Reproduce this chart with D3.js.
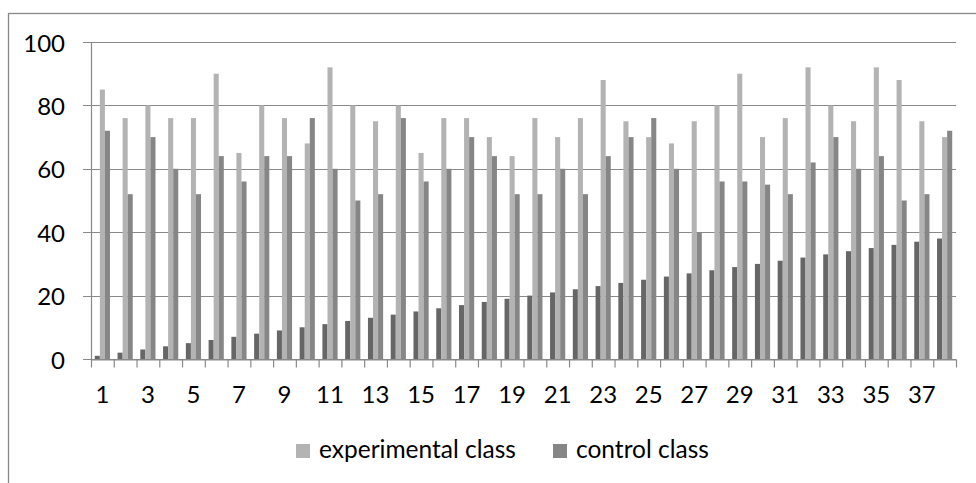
<!DOCTYPE html>
<html>
<head>
<meta charset="utf-8">
<script src="https://cdn.jsdelivr.net/npm/d3@7"></script>
<style>
  body { margin: 0; background: #fff; }
  svg { display: block; font-family: Lato, "Open Sans", sans-serif; }
</style>
</head>
<body>
<div class="canvas"></div>
<script>
// ---------------- data ----------------
const categories = d3.range(1, 39).map(String);
const studentNo = d3.range(1, 39);
const experimental = [85, 76, 80, 76, 76, 90, 65, 80, 76, 68, 92, 80, 75, 80, 65, 76, 76, 70, 64,
    76, 70, 76, 88, 75, 70, 68, 75, 80, 90, 70, 76, 92, 80, 75, 92, 88, 75, 70];
const control = [72, 52, 70, 60, 52, 64, 56, 64, 64, 76, 60, 50, 52, 76, 56, 60, 70, 64, 52,
    52, 60, 52, 64, 70, 76, 60, 40, 56, 56, 55, 52, 62, 70, 60, 64, 50, 52, 72];
const yTicks = [0, 20, 40, 60, 80, 100];
const legendNames = ['experimental class', 'control class'];

// ---------------- set up ----------------
const W = 976, H = 483;
const margin = { top: 42, right: 20, bottom: 124, left: 91 };
const graphWidth = W - margin.left - margin.right;
const graphHeight = H - margin.top - margin.bottom;
const gridColor = '#898989';

const svg = d3.select('.canvas')
    .append('svg')
    .attr('width', W)
    .attr('height', H);

svg.append('rect')
    .attr('width', W).attr('height', H)
    .attr('fill', '#fff');

// chart frame (runs off the right and bottom edge)
svg.append('rect')
    .attr('x', 8.5).attr('y', 13.5)
    .attr('width', W).attr('height', H)
    .attr('fill', 'none')
    .attr('stroke', gridColor)
    .attr('stroke-width', 1.3);

const graph = svg.append('g')
    .attr('transform', `translate(${margin.left},${margin.top})`);

const y = d3.scaleLinear().domain([0, 100]).range([graphHeight, 0]);
const x0 = d3.scaleBand().domain(categories).range([0, graphWidth])
    .paddingInner(1 / 3).paddingOuter(1 / 6);
const x1 = d3.scaleBand().domain(['no', 'exp', 'ctl']).range([0, x0.bandwidth()]);
const color = d3.scaleOrdinal().domain(['no', 'exp', 'ctl'])
    .range(['#666666', '#b3b3b3', '#868686']);

// gridlines
graph.append('g')
    .selectAll('line')
    .data(yTicks)
    .join('line')
    .attr('x1', -8).attr('x2', graphWidth)
    .attr('y1', d => Math.round(y(d)) + 0.5)
    .attr('y2', d => Math.round(y(d)) + 0.5)
    .attr('stroke', gridColor)
    .attr('stroke-width', 1.2);

// y axis labels
const yAxis = d3.axisLeft(y).tickValues(yTicks).tickSize(0).tickPadding(26);
const yAxisGroup = graph.append('g').call(yAxis);
yAxisGroup.select('.domain').remove();
yAxisGroup.selectAll('text')
    .attr('font-size', 24)
    .attr('font-family', 'Lato')
    .attr('fill', '#000')
    .attr('dy', '0.38em');

// bars
const rows = categories.map((c, i) => ({
    cat: c,
    vals: [
        { key: 'no', v: studentNo[i] },
        { key: 'exp', v: experimental[i] },
        { key: 'ctl', v: control[i] }
    ]
}));

graph.append('g')
    .selectAll('g')
    .data(rows)
    .join('g')
    .attr('transform', d => `translate(${x0(d.cat)},0)`)
    .selectAll('rect')
    .data(d => d.vals)
    .join('rect')
    .attr('x', d => x1(d.key))
    .attr('width', x1.bandwidth())
    .attr('y', d => y(d.v))
    .attr('height', d => graphHeight - y(d.v))
    .attr('fill', d => color(d.key));

// y axis line
graph.append('line')
    .attr('x1', 0.5).attr('x2', 0.5)
    .attr('y1', 0).attr('y2', graphHeight)
    .attr('stroke', gridColor)
    .attr('stroke-width', 1.2);

// x axis: ticks on category boundaries
const xb = d3.scaleLinear().domain([0, categories.length]).range([0, graphWidth]);
const xTickAxis = d3.axisBottom(xb)
    .tickValues(d3.range(0, categories.length + 1))
    .tickFormat('')
    .tickSize(8)
    .tickSizeOuter(0);
const xAxisGroup = graph.append('g')
    .attr('transform', `translate(0,${Math.round(graphHeight) + 0.5})`)
    .call(xTickAxis);
xAxisGroup.selectAll('line, path').attr('stroke', gridColor).attr('stroke-width', 1.2);

// x labels, every other category
const xLabelAxis = d3.axisBottom(x0)
    .tickValues(categories.filter((c, i) => i % 2 === 0))
    .tickSize(0)
    .tickPadding(27);
const xLabelGroup = graph.append('g')
    .attr('transform', `translate(0,${graphHeight})`)
    .call(xLabelAxis);
xLabelGroup.select('.domain').remove();
xLabelGroup.selectAll('text')
    .attr('font-size', 24)
    .attr('font-family', 'Lato')
    .attr('fill', '#000');

// legend
const legend = svg.append('g');
const legendX = [296, 553];
legendNames.forEach((name, i) => {
    const g = legend.append('g').attr('transform', `translate(${legendX[i]},444)`);
    g.append('rect')
        .attr('width', 14).attr('height', 14)
        .attr('fill', color(i === 0 ? 'exp' : 'ctl'));
    g.append('text')
        .attr('x', 23).attr('y', 14)
        .attr('font-size', 24.5)
        .attr('fill', '#000')
        .text(name);
});
</script>
</body>
</html>
